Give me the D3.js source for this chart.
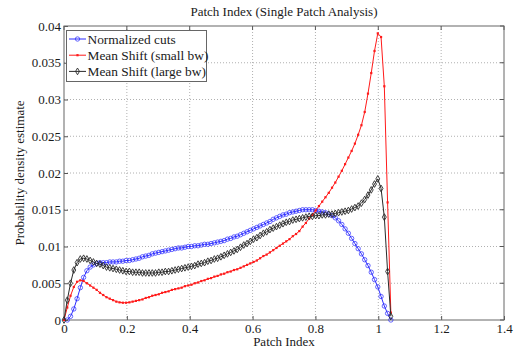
<!DOCTYPE html>
<html><head><meta charset="utf-8">
<script src="https://cdn.jsdelivr.net/npm/d3@7"></script>
<style>
body{margin:0;background:#fff}
svg{display:block}
svg text{font-family:"Liberation Serif","Times New Roman",Tinos,"DejaVu Serif",serif !important;fill:#1a1a1a}
</style></head>
<body><svg id="chart" width="520" height="352"></svg>
<script>
const titleText = "Patch Index (Single Patch Analysis)";
const xLabel = "Patch Index";
const yLabel = "Probability density estimate";
const seriesNames = ["Normalized cuts", "Mean Shift (small bw)", "Mean Shift (large bw)"];
const xTicks = [0, 0.2, 0.4, 0.6, 0.8, 1, 1.2, 1.4];
const xTickLabels = ["0", "0.2", "0.4", "0.6", "0.8", "1", "1.2", "1.4"];
const yTicks = [0, 0.005, 0.01, 0.015, 0.02, 0.025, 0.03, 0.035, 0.04];
const yTickLabels = ["0", "0.005", "0.01", "0.015", "0.02", "0.025", "0.03", "0.035", "0.04"];

const xValues = [0,0.0104,0.0208,0.0312,0.0416,0.052,0.0624,0.0728,0.0832,0.0936,
0.104,0.1144,0.1248,0.1352,0.1456,0.156,0.1664,0.1768,0.1872,0.1976,
0.208,0.2184,0.2288,0.2392,0.2496,0.26,0.2704,0.2808,0.2912,0.3016,
0.312,0.3224,0.3328,0.3432,0.3536,0.364,0.3744,0.3848,0.3952,0.4056,
0.416,0.4264,0.4368,0.4472,0.4576,0.468,0.4784,0.4888,0.4992,0.5096,
0.52,0.5304,0.5408,0.5512,0.5616,0.572,0.5824,0.5928,0.6032,0.6136,
0.624,0.6344,0.6448,0.6552,0.6656,0.676,0.6864,0.6968,0.7072,0.7176,
0.728,0.7384,0.7488,0.7592,0.7696,0.78,0.7904,0.8008,0.8112,0.8216,
0.832,0.8424,0.8528,0.8632,0.8736,0.884,0.8944,0.9048,0.9152,0.9256,
0.936,0.9464,0.9568,0.9672,0.9776,0.988,0.9984,1.0088,1.0192,1.0296,1.04];

const normalizedCuts = [null,0.0000,0.0005,0.0015,0.0029,0.0044,0.0058,0.0067,0.0072,0.0075,
0.0077,0.0078,0.0078,0.0078,0.0079,0.0079,0.0079,0.0080,0.0080,0.0081,
0.0081,0.0082,0.0083,0.0084,0.0086,0.0087,0.0088,0.0090,0.0091,0.0092,
0.0093,0.0094,0.0095,0.0096,0.0097,0.0098,0.0098,0.0099,0.0100,0.0100,
0.0101,0.0101,0.0102,0.0103,0.0103,0.0104,0.0105,0.0106,0.0107,0.0108,
0.0110,0.0111,0.0113,0.0114,0.0116,0.0118,0.0120,0.0122,0.0124,0.0126,
0.0128,0.0130,0.0132,0.0134,0.0137,0.0139,0.0141,0.0143,0.0144,0.0146,
0.0147,0.0148,0.0149,0.0150,0.0150,0.0150,0.0150,0.0149,0.0148,0.0147,
0.0146,0.0144,0.0142,0.0139,0.0135,0.0130,0.0124,0.0118,0.0111,0.0104,
0.0097,0.0090,0.0082,0.0074,0.0065,0.0055,0.0045,0.0032,0.0019,0.0009,0.0000];

const meanShiftSmall = [0,0.0017,0.0033,0.0045,0.0052,0.0054,0.0053,0.0050,0.0047,0.0044,
0.0041,0.0037,0.0034,0.0031,0.0029,0.0027,0.0025,0.0024,0.00235,0.00235,
0.0024,0.0025,0.0026,0.0027,0.0028,0.0030,0.0031,0.0033,0.0034,0.0035,
0.0037,0.0038,0.0039,0.0041,0.0042,0.0043,0.0044,0.0046,0.0047,0.0048,
0.0050,0.0051,0.0053,0.0054,0.0056,0.0057,0.0059,0.0060,0.0062,0.0063,
0.0065,0.0066,0.0068,0.0069,0.0071,0.0073,0.0075,0.0077,0.0079,0.0081,
0.0084,0.0087,0.0089,0.0092,0.0095,0.0098,0.0101,0.0104,0.0107,0.0110,
0.0114,0.0117,0.0121,0.0127,0.0132,0.0138,0.0143,0.0149,0.0155,0.0161,
0.0167,0.0173,0.0180,0.0187,0.0195,0.0203,0.0212,0.0221,0.0230,0.0240,
0.0252,0.0265,0.0283,0.0308,0.0336,0.0366,0.0390,0.0385,0.0318,0.0160,0.0010];

const meanShiftLarge = [0,0.0027,0.0050,0.0068,0.0078,0.0083,0.0084,0.0083,0.0081,0.0079,
0.0077,0.0076,0.0074,0.0072,0.0071,0.0070,0.0069,0.0068,0.0067,0.0066,
0.0066,0.0065,0.0065,0.0065,0.0064,0.0064,0.0064,0.0064,0.0064,0.0065,
0.0065,0.0066,0.0066,0.0067,0.0068,0.0069,0.0070,0.0071,0.0072,0.0073,
0.0074,0.0076,0.0077,0.0078,0.0080,0.0081,0.0083,0.0084,0.0086,0.0088,
0.0090,0.0092,0.0094,0.0096,0.0099,0.0102,0.0104,0.0107,0.0110,0.0112,
0.0115,0.0118,0.0120,0.0123,0.0125,0.0127,0.0129,0.0131,0.0133,0.0134,
0.0136,0.0137,0.0138,0.0139,0.0140,0.0141,0.0141,0.0142,0.0142,0.0143,
0.0143,0.0144,0.0144,0.0145,0.0146,0.0147,0.0148,0.0149,0.0151,0.0153,
0.0155,0.0159,0.0164,0.0170,0.0177,0.0185,0.0192,0.0179,0.0140,0.0066,0.0005];

const colors = ["#2b2bff", "#ff1a1a", "#2a2a2a"];
const FONT = '"Liberation Serif","Times New Roman",Tinos,"DejaVu Serif",serif';

const svg = d3.select("#chart");
const L = 64, R = 504, T = 26, B = 320;
const x = d3.scaleLinear().domain([0, 1.4]).range([L, R]);
const y = d3.scaleLinear().domain([0, 0.04]).range([B, T]);

// grid
const grid = svg.append("g");
grid.selectAll("line.gx").data(xTicks.slice(1, -1)).join("line")
  .attr("x1", d => x(d)).attr("x2", d => x(d)).attr("y1", T).attr("y2", B)
  .attr("stroke", "#b0b0b0").attr("stroke-width", 1).attr("stroke-dasharray", "1,2");
grid.selectAll("line.gy").data(yTicks.slice(1, -1)).join("line")
  .attr("x1", L).attr("x2", R).attr("y1", d => y(d)).attr("y2", d => y(d))
  .attr("stroke", "#b0b0b0").attr("stroke-width", 1).attr("stroke-dasharray", "1,2");

// axes
const xAxis = d3.axisBottom(x).tickValues(xTicks).tickSizeInner(-4).tickSizeOuter(0)
  .tickFormat((d, i) => xTickLabels[i]).tickPadding(4);
const yAxis = d3.axisLeft(y).tickValues(yTicks).tickSizeInner(-4).tickSizeOuter(0)
  .tickFormat((d, i) => yTickLabels[i]).tickPadding(3);
const gx = svg.append("g").attr("transform", `translate(0,${B})`).call(xAxis);
const gy = svg.append("g").attr("transform", `translate(${L},0)`).call(yAxis);
[gx, gy].forEach(g => {
  g.attr("font-family", FONT).attr("font-size", 13);
  g.select(".domain").remove();
  g.selectAll("line").attr("stroke", "#555");
  g.selectAll("text").attr("fill", "#1a1a1a");
});
// mirrored ticks
svg.append("g").selectAll("line").data(xTicks).join("line")
  .attr("x1", d => x(d)).attr("x2", d => x(d)).attr("y1", T).attr("y2", T + 4).attr("stroke", "#555");
svg.append("g").selectAll("line").data(yTicks).join("line")
  .attr("x1", R).attr("x2", R - 4).attr("y1", d => y(d)).attr("y2", d => y(d)).attr("stroke", "#555");

svg.append("rect").attr("x", L).attr("y", T).attr("width", R - L).attr("height", B - T)
  .attr("fill", "none").attr("stroke", "#666").attr("stroke-width", 1);

// series
const seriesData = [normalizedCuts, meanShiftSmall, meanShiftLarge];
const line = d3.line().defined(d => d[1] != null).x(d => x(d[0])).y(d => y(d[1]));
const diamond = d3.symbol().type(d3.symbolDiamond).size(13);

function marker(g, k, cx, cy) {
  if (k === 0) {
    g.append("circle").attr("cx", cx).attr("cy", cy).attr("r", 2.2)
      .attr("fill", "none").attr("stroke", colors[0]).attr("stroke-width", 0.9).attr("stroke-opacity", 0.8);
  } else if (k === 1) {
    g.append("rect").attr("x", cx - 1.1).attr("y", cy - 1.1).attr("width", 2.2).attr("height", 2.2)
      .attr("fill", colors[1]);
  } else {
    g.append("path").attr("d", diamond).attr("transform", `translate(${cx},${cy})`)
      .attr("fill", "none").attr("stroke", colors[2]).attr("stroke-width", 0.9);
  }
}

seriesData.forEach((vals, k) => {
  const pts = xValues.map((xv, i) => [xv, vals[i]]);
  const g = svg.append("g");
  g.append("path").datum(pts).attr("d", line).attr("fill", "none")
    .attr("stroke", colors[k]).attr("stroke-width", 1);
  pts.filter(p => p[1] != null).forEach(p => marker(g, k, x(p[0]), y(p[1])));
});

// legend
const lg = svg.append("g");
lg.append("rect").attr("x", 66.5).attr("y", 30.5).attr("width", 140).attr("height", 51)
  .attr("fill", "#fff").attr("stroke", "#666").attr("stroke-width", 1);
seriesNames.forEach((name, k) => {
  const ly = 39 + k * 16.2;
  lg.append("line").attr("x1", 69).attr("x2", 86).attr("y1", ly).attr("y2", ly)
    .attr("stroke", colors[k]).attr("stroke-width", 1);
  marker(lg, k, 77.5, ly);
  lg.append("text").attr("x", 87.5).attr("y", ly + 4.5).attr("font-family", FONT).attr("font-size", 13.4).text(name);
});

// title and labels
svg.append("text").attr("x", (L + R) / 2).attr("y", 16).attr("text-anchor", "middle")
  .attr("font-family", FONT).attr("font-size", 13).text(titleText);
svg.append("text").attr("x", (L + R) / 2).attr("y", 346).attr("text-anchor", "middle")
  .attr("font-family", FONT).attr("font-size", 13).text(xLabel);
svg.append("text").attr("transform", `translate(24,${(T + B) / 2}) rotate(-90)`)
  .attr("text-anchor", "middle").attr("font-family", FONT).attr("font-size", 13).text(yLabel);
</script></body></html>
